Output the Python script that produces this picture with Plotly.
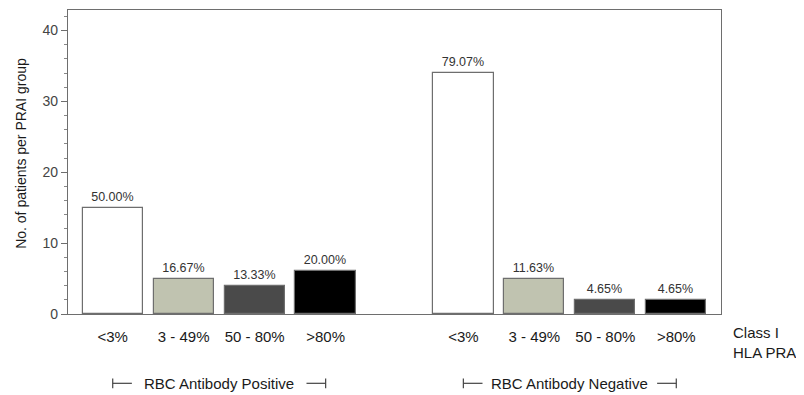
import plotly.graph_objects as go

groups = ["RBC Antibody Positive", "RBC Antibody Negative"]
categories = ["<3%", "3 - 49%", "50 - 80%", ">80%"]
positive_counts = [15, 5, 4, 6]
negative_counts = [34, 5, 2, 2]
positive_pct = ["50.00%", "16.67%", "13.33%", "20.00%"]
negative_pct = ["79.07%", "11.63%", "4.65%", "4.65%"]
bar_colors = ["#FFFFFF", "#C0C3B0", "#4A4A4A", "#000000"]

FONT = "Liberation Sans, Arial"
GROUP_OFFSET = 4.94
series = [positive_counts, negative_counts]
labels = [positive_pct, negative_pct]

fig = go.Figure()
xs_all, ticktext = [], []
for g, (vals, pcts) in enumerate(zip(series, labels)):
    xs = [i + g * GROUP_OFFSET for i in range(len(categories))]
    xs_all += xs
    ticktext += categories
    fig.add_trace(go.Bar(
        x=xs, y=vals, width=0.85,
        marker=dict(color=bar_colors, line=dict(color="#6E6E6E", width=1.2)),
        text=pcts, textposition="outside", cliponaxis=False,
        textfont=dict(family=FONT, size=12.5, color="#333333"),
        showlegend=False, hoverinfo="skip",
    ))
    # group bracket
    x0, x1 = xs[0], xs[-1]
    yb = -0.228
    fig.add_shape(type="line", xref="x", yref="paper", x0=x0, x1=x0 + 0.27, y0=yb, y1=yb,
                  line=dict(color="#444", width=1.2))
    fig.add_shape(type="line", xref="x", yref="paper", x0=x1 - 0.27, x1=x1, y0=yb, y1=yb,
                  line=dict(color="#444", width=1.2))
    for xv in (x0, x1):
        fig.add_shape(type="line", xref="x", yref="paper", x0=xv, x1=xv, y0=yb + 0.016, y1=yb - 0.016,
                      line=dict(color="#444", width=1.2))
    fig.add_annotation(x=(x0 + x1) / 2, y=yb, xref="x", yref="paper", text=groups[g],
                       showarrow=False, font=dict(family=FONT, size=15, color="#1a1a1a"),
                       yanchor="middle")

fig.add_annotation(x=1.016, y=-0.025, xref="paper", yref="paper", text="Class I<br>HLA PRA",
                   showarrow=False, xanchor="left", yanchor="top", align="left",
                   font=dict(family=FONT, size=15, color="#1a1a1a"))

fig.add_annotation(x=-0.072, y=0.53, xref="paper", yref="paper", text="No. of patients per PRAI group",
                   showarrow=False, textangle=-90, xanchor="center", yanchor="middle",
                   font=dict(family=FONT, size=14, color="#1a1a1a"))

fig.update_layout(
    width=796, height=387,
    margin=dict(l=60, r=83, t=2, b=81),
    plot_bgcolor="white", paper_bgcolor="white",
    font=dict(family=FONT, color="#222"),
    xaxis=dict(range=[-0.63, 8.57], tickvals=xs_all, ticktext=ticktext,
               showgrid=False, zeroline=False, showline=True, linecolor="#6E6E6E", linewidth=1.3,
               mirror=True, ticks="", ticklabelstandoff=9,
               tickfont=dict(size=15, color="#1a1a1a")),
    yaxis=dict(range=[0, 42.9], tickvals=[0, 10, 20, 30, 40],
               showgrid=False, zeroline=False, showline=True, linecolor="#6E6E6E", linewidth=1.3,
               mirror=True, ticks="outside", ticklen=6, tickcolor="#6E6E6E",
               minor=dict(dtick=2, ticks="outside", ticklen=3, tickcolor="#888", showgrid=False),
               tickfont=dict(size=14, color="#444")),
    bargap=0,
)

fig.write_html("out.html")
